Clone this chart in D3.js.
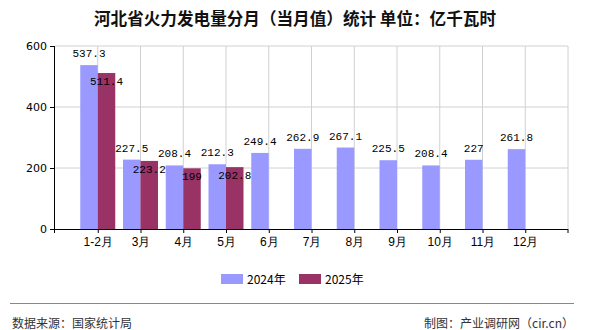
<!DOCTYPE html>
<html><head><meta charset="utf-8">
<script src="https://cdn.jsdelivr.net/npm/d3@7"></script>
<style>
html,body{margin:0;padding:0;background:#fff;}
svg{display:block;font-family:"Noto Sans CJK SC","DejaVu Sans",sans-serif;}
</style></head>
<body>
<svg id="c" width="590" height="330"></svg>
<script>
const categories = ["1-2月","3月","4月","5月","6月","7月","8月","9月","10月","11月","12月"];
const values2024 = [537.3,227.5,208.4,212.3,249.4,262.9,267.1,225.5,208.4,227,261.8];
const values2025 = [511.4,223.2,199,202.8];
const seriesNames = ["2024年","2025年"];
const yTicks = [0,200,400,600];
const colors = ["#9999FF","#993366"];

const svg = d3.select("#c");
const pL = 55, pR = 568, pT = 46, pB = 229;
const step = (pR-pL)/12;
const x = d3.scalePoint().domain(categories).range([pL+step, pL+step*11]);
const y = d3.scaleLinear().domain([0,600]).range([pB, pT]);
const bw = 17.5;

// title
svg.append("text").attr("x",295).attr("y",25).attr("text-anchor","middle")
  .attr("font-size",16.6).attr("font-weight","bold").attr("fill","#111")
  .text("河北省火力发电量分月（当月值）统计 单位：亿千瓦时");

// grid
const g = svg.append("g");
g.selectAll(".hg").data(yTicks.filter(d=>d>0)).join("line")
  .attr("x1",pL).attr("x2",pR).attr("y1",d=>y(d)).attr("y2",d=>y(d))
  .attr("stroke","#d0d0d0").attr("stroke-width",1);
g.selectAll(".vg").data(categories).join("line")
  .attr("x1",d=>x(d)).attr("x2",d=>x(d)).attr("y1",pT).attr("y2",pB)
  .attr("stroke","#d0d0d0").attr("stroke-width",1);
g.append("line").attr("x1",pR).attr("x2",pR).attr("y1",pT).attr("y2",pB)
  .attr("stroke","#d0d0d0");

// bars
const s1 = categories.map((c,i)=>({c,v:values2024[i]}));
const s2 = values2025.map((v,i)=>({c:categories[i],v}));
g.selectAll(".b1").data(s1).join("rect")
  .attr("x",d=>x(d.c)-bw).attr("width",bw)
  .attr("y",d=>y(d.v)).attr("height",d=>y(0)-y(d.v)).attr("fill",colors[0]);
g.selectAll(".b2").data(s2).join("rect")
  .attr("x",d=>x(d.c)).attr("width",bw)
  .attr("y",d=>y(d.v)).attr("height",d=>y(0)-y(d.v)).attr("fill",colors[1]);

// axes
const yAxis = svg.append("g").attr("transform",`translate(${pL},0)`)
  .call(d3.axisLeft(y).tickValues(yTicks).tickSize(5).tickPadding(3).tickFormat(d3.format("d")));
yAxis.select(".domain").attr("stroke","#000").attr("d",`M-0.5,${pT}V${pB+4}`);
yAxis.selectAll(".tick line").attr("stroke","#000");
yAxis.selectAll("text").attr("fill","#000").attr("font-family","'DejaVu Sans',sans-serif").attr("font-size",11);

const xAxis = svg.append("g").attr("transform",`translate(0,${pB})`)
  .call(d3.axisBottom(x).tickSize(4).tickPadding(4));
xAxis.select(".domain").attr("stroke","#000").attr("d",`M${pL},0.5H${pR}`);
xAxis.selectAll(".tick line").attr("stroke","#000");
xAxis.selectAll("text").attr("font-size",12).attr("fill","#000");
xAxis.append("line").attr("x1",pR).attr("x2",pR).attr("y1",0).attr("y2",4).attr("stroke","#000");

// value labels
const lf = "'Liberation Mono','DejaVu Sans Mono',monospace";
g.selectAll(".l1").data(s1).join("text")
  .attr("x",d=>x(d.c)-bw/2).attr("y",d=>y(d.v)-8).attr("text-anchor","middle")
  .attr("font-size",11).attr("font-family",lf).attr("fill","#000").text(d=>d.v);
g.selectAll(".l2").data(s2).join("text")
  .attr("x",d=>x(d.c)+bw/2).attr("y",d=>y(d.v)+12).attr("text-anchor","middle")
  .attr("font-size",11).attr("font-family",lf).attr("fill","#000").text(d=>d.v);

// legend
const lg = svg.append("g");
const lx = [221,299];
seriesNames.forEach((n,i)=>{
  lg.append("rect").attr("x",lx[i]).attr("y",274).attr("width",22).attr("height",10).attr("fill",colors[i]);
  lg.append("text").attr("x",lx[i]+26).attr("y",283.5).attr("font-size",12).attr("fill","#000").text(n);
});

// footer
svg.append("line").attr("x1",10).attr("x2",574).attr("y1",303.5).attr("y2",303.5).attr("stroke","#888");
svg.append("text").attr("x",12).attr("y",328).attr("font-size",12).attr("fill","#333").text("数据来源：国家统计局");
svg.append("text").attr("x",574).attr("y",328).attr("text-anchor","end").attr("font-size",12).attr("fill","#333").text("制图：产业调研网（cir.cn）");
</script>
</body></html>
